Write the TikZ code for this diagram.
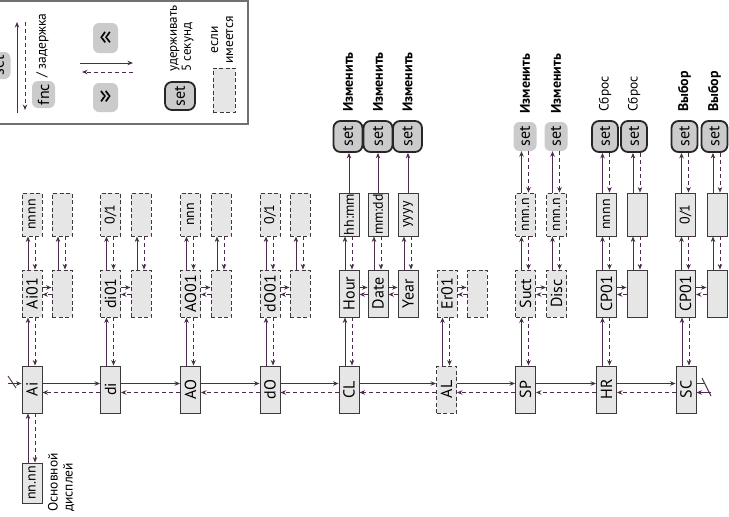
\documentclass[tikz,border=0pt]{standalone}
\usepackage{fontspec}
\setmainfont{PT Sans}
\usetikzlibrary{arrows.meta}
\definecolor{MenuLine}{HTML}{4F2A4F}
\definecolor{MenuFill}{HTML}{E6E6E6}
\definecolor{MenuEdge}{HTML}{3A3A3A}
\definecolor{KeyFill}{HTML}{CBCBCB}
\definecolor{FrameGray}{HTML}{707070}
\newcommand{\vtext}[1]{\rotatebox{90}{#1}}
\tikzset{
  menubox/.style={draw=MenuEdge,fill=MenuFill,line width=0.9pt,minimum width=20pt,minimum height=47pt,inner sep=0pt,font=\fontsize{16}{16}\selectfont},
  optbox/.style={menubox,dash pattern=on 4pt off 2.5pt},
  valbox/.style={menubox,minimum height=43pt,font=\fontsize{14}{14}\selectfont},
  optval/.style={valbox,dash pattern=on 4pt off 2.5pt},
  holdkey/.style={draw=black!85,fill=KeyFill,line width=1.8pt,rounded corners=7pt,minimum width=28pt,minimum height=31pt,inner sep=0pt,font=\fontsize{16}{16}\selectfont},
  softkey/.style={fill=KeyFill,rounded corners=6pt,minimum width=23pt,minimum height=27pt,inner sep=0pt,font=\fontsize{16}{16}\selectfont},
  fwd/.style={MenuLine,line width=0.9pt,-{Stealth[length=5.5pt,width=4.5pt]}},
  back/.style={fwd,dash pattern=on 4pt off 3pt},
  wrapline/.style={MenuLine,line width=0.9pt},
  note/.style={inner sep=0pt,font=\fontsize{13.5}{15}\selectfont},
  keynote/.style={note,font=\bfseries\fontsize{14}{15}\selectfont},
}
\begin{document}
\begin{tikzpicture}[x=1pt,y=-1pt]
\useasboundingbox (0,0) rectangle (729,517);
\draw[FrameGray,line width=1.4pt] (-5,1) rectangle (248,124);
\node[softkey] (LgSet) at (-1,65.5) {\vtext{set}};
\node[softkey] (LgFnc) at (43.5,94.5) {\vtext{fnc}};
\node[note,anchor=south] (LgDelay) at (42.5,78) {\vtext{/ задержка}};
\coordinate (LgUpA) at (17,113);
\coordinate (LgUpB) at (17,22);
\coordinate (LgDnA) at (25,22);
\coordinate (LgDnB) at (25,110);
\draw[fwd] (LgUpA) -- (LgUpB);
\draw[back] (LgDnA) -- (LgDnB);
\node[softkey,minimum width=25pt,minimum height=30pt,font=\fontsize{26}{26}\selectfont] (LgPrev) at (105.5,38) {«};
\node[softkey,minimum width=25pt,minimum height=29pt,font=\fontsize{26}{26}\selectfont] (LgNext) at (105.5,97.5) {»};
\coordinate (LgRa) at (80,63);
\coordinate (LgRb) at (133,63);
\coordinate (LgLa) at (133,72);
\coordinate (LgLb) at (82,72);
\draw[fwd] (LgRa) -- (LgRb);
\draw[back] (LgLa) -- (LgLb);
\node[holdkey,minimum width=30pt,minimum height=28pt] (LgHold) at (180,96) {\vtext{set}};
\node[note,anchor=south,font=\fontsize{13}{14}\selectfont] (LgHoldT) at (181,72) {\vtext{\begin{tabular}{@{}l@{}}удерживать\\5 секунд\end{tabular}}};
\node[note] (LgOptT) at (222.5,40) {\vtext{\begin{tabular}{@{}c@{}}если\\имеется\end{tabular}}};
\node[optbox,minimum width=22pt,minimum height=44pt] (LgOpt) at (224,90) {};

\node[menubox] (Ai) at (32,389.5) {\vtext{Ai}};
\node[menubox] (di) at (110.5,389.5) {\vtext{di}};
\node[menubox] (AO) at (190.5,389.5) {\vtext{AO}};
\node[menubox] (dO) at (270,389.5) {\vtext{dO}};
\node[menubox] (CL) at (349,389.5) {\vtext{CL}};
\node[optbox] (AL) at (446.5,389.5) {\vtext{AL}};
\node[menubox] (SP) at (525.5,389.5) {\vtext{SP}};
\node[menubox] (HR) at (606.5,389.5) {\vtext{HR}};
\node[menubox] (SC) at (686,389.5) {\vtext{SC}};
\node[valbox,minimum height=40pt] (Disp) at (32,483) {\vtext{nn.nn}};
\node[note,anchor=south west] (DispT) at (47,512) {\vtext{\begin{tabular}{@{}l@{}}Основной\\дисплей\end{tabular}}};

\node[optbox] (Ai01) at (32,293.5) {\vtext{Ai01}};
\node[optbox] (AiX) at (62,293.5) {};
\node[optval] (AiV) at (32,214.5) {\vtext{nnnn}};
\node[optval] (AiVX) at (62,214.5) {};
\node[optbox] (di01) at (110.5,293.5) {\vtext{di01}};
\node[optbox] (diX) at (141,293.5) {};
\node[optval] (diV) at (110.5,214.5) {\vtext{0/1}};
\node[optval] (diVX) at (141,214.5) {};
\node[optbox] (AO01) at (190.5,293.5) {\vtext{AO01}};
\node[optbox] (AOX) at (221,293.5) {};
\node[optval] (AOV) at (190.5,214.5) {\vtext{nnn}};
\node[optval] (AOVX) at (221,214.5) {};
\node[optbox] (dO01) at (270,293.5) {\vtext{dO01}};
\node[optbox] (dOX) at (300,293.5) {};
\node[optval] (dOV) at (270,214.5) {\vtext{0/1}};
\node[optval] (dOVX) at (300,214.5) {};

\node[menubox] (Hour) at (349,293.5) {\vtext{Hour}};
\node[menubox] (Date) at (378,293.5) {\vtext{Date}};
\node[menubox] (Year) at (408,293.5) {\vtext{Year}};
\node[valbox] (HourV) at (349,214.5) {\vtext{hh:mm}};
\node[valbox] (DateV) at (378,214.5) {\vtext{mm:dd}};
\node[valbox] (YearV) at (408,214.5) {\vtext{yyyy}};
\node[holdkey,minimum width=29pt] (HourK) at (348,136.5) {\vtext{set}};
\node[holdkey,minimum width=29pt] (DateK) at (378,136.5) {\vtext{set}};
\node[holdkey,minimum width=29pt] (YearK) at (407.5,136.5) {\vtext{set}};

\node[optbox] (Er01) at (447,293.5) {\vtext{Er01}};
\node[optbox] (ErX) at (477,293.5) {};

\node[optbox] (Suct) at (525.5,293.5) {\vtext{Suct}};
\node[optbox] (Disc) at (556.5,293.5) {\vtext{Disc}};
\node[optval] (SuctV) at (525.5,214.5) {\vtext{nnn.n}};
\node[optval] (DiscV) at (556.5,214.5) {\vtext{nnn.n}};
\node[softkey,minimum height=29pt] (SuctK) at (525,136.5) {\vtext{set}};
\node[softkey,minimum height=29pt] (DiscK) at (556,136.5) {\vtext{set}};

\node[menubox] (HRa) at (606.5,293.5) {\vtext{CP01}};
\node[menubox] (HRb) at (637,293.5) {};
\node[valbox] (HRaV) at (606.5,214.5) {\vtext{nnnn}};
\node[valbox] (HRbV) at (637,214.5) {};
\node[holdkey,minimum width=26pt] (HRaK) at (605,136.5) {\vtext{set}};
\node[holdkey,minimum width=26pt] (HRbK) at (634,136.5) {\vtext{set}};

\node[menubox] (SCa) at (685.5,293.5) {\vtext{CP01}};
\node[menubox] (SCb) at (717,293.5) {};
\node[valbox] (SCaV) at (685.5,214.5) {\vtext{0/1}};
\node[valbox] (SCbV) at (717,214.5) {};
\node[holdkey,minimum width=26pt] (SCaK) at (684.5,136.5) {\vtext{set}};
\node[holdkey,minimum width=26pt] (SCbK) at (714.5,136.5) {\vtext{set}};

\foreach \k/\t in {HourK/Изменить,DateK/Изменить,YearK/Изменить,SuctK/Изменить,DiscK/Изменить,SCaK/Выбор,SCbK/Выбор}
  \node[keynote,anchor=south] (\k T) at ([yshift=8pt]\k.north) {\vtext{\t}};
\foreach \k in {HRaK,HRbK}
  \node[note,anchor=south] (\k T) at ([yshift=8pt]\k.north) {\vtext{Сброс}};

\foreach \a/\b in {Ai/di,di/AO,AO/dO,dO/CL,CL/AL,AL/SP,SP/HR,HR/SC} {
  \draw[fwd] ([yshift=6pt]\a.east) -- ([yshift=6pt]\b.west);
  \draw[back] ([yshift=-3pt]\b.west) -- ([yshift=-3pt]\a.east);
}
\foreach \a/\b in {Ai01/AiX,di01/diX,AO01/AOX,dO01/dOX,Hour/Date,Date/Year,Er01/ErX,Suct/Disc,HRa/HRb,SCa/SCb} {
  \draw[fwd] ([yshift=6pt]\a.east) -- ([yshift=6pt]\b.west);
  \draw[back] ([yshift=-1pt]\b.west) -- ([yshift=-1pt]\a.east);
}
\foreach \lo/\hi in {Ai/Ai01,di/di01,AO/AO01,dO/dO01,CL/Hour,AL/Er01,SP/Suct,HR/HRa,SC/SCa,
    Ai01/AiV,AiX/AiVX,di01/diV,diX/diVX,AO01/AOV,AOX/AOVX,dO01/dOV,dOX/dOVX,
    Hour/HourV,Date/DateV,Year/YearV,Suct/SuctV,Disc/DiscV,HRa/HRaV,HRb/HRbV,SCa/SCaV,SCb/SCbV,
    SuctV/SuctK,DiscV/DiscK,HRaV/HRaK,HRbV/HRbK,SCaV/SCaK,SCbV/SCbK,Disp/Ai} {
  \draw[fwd] ([xshift=-4pt]\lo.north) -- ([xshift=-4pt]\lo.north |- \hi.south);
  \draw[back] ([xshift=3pt]\lo.north |- \hi.south) -- ([xshift=3pt]\lo.north);
}
\foreach \lo/\hi in {HourV/HourK,DateV/DateK,YearV/YearK}
  \draw[fwd] (\lo.north) -- (\lo.north |- \hi.south);

\coordinate (WrapR1) at (704,383.5);
\coordinate (WrapR2) at (702,378);
\coordinate (WrapR3) at (711,396);
\coordinate (WrapR4) at (711,392.5);
\draw[wrapline] ([yshift=6pt]SC.east) -- (WrapR1);
\draw[wrapline] (WrapR2) -- (WrapR3);
\draw[fwd] (WrapR4) -- ([yshift=-3pt]SC.east);
\coordinate (WrapL1) at (16,388);
\coordinate (WrapL2) at (8,376);
\coordinate (WrapL3) at (8,383.5);
\draw[wrapline] (WrapL1) -- (WrapL2);
\draw[fwd] (WrapL3) -- ([yshift=6pt]Ai.west);
\end{tikzpicture}
\end{document}
